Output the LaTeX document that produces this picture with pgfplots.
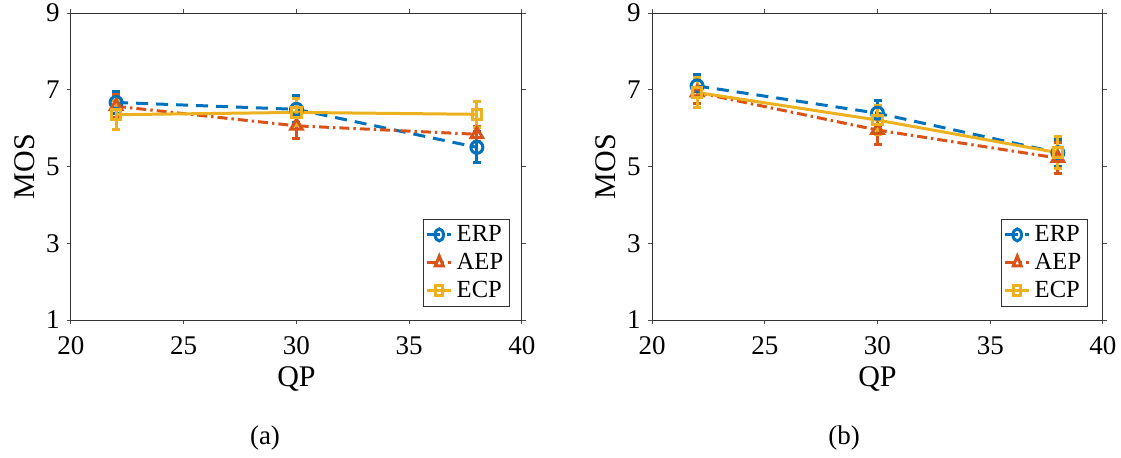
\documentclass[border=0pt]{standalone}
\usepackage{fontspec}
\setmainfont{Liberation Serif}
\usepackage{pgfplots}
\pgfplotsset{compat=1.18}
\usepackage{pgfplotstable}

% MATLAB default colours
\definecolor{mblue}{rgb}{0,0.447,0.741}
\definecolor{mred}{rgb}{0.850,0.325,0.098}
\definecolor{myellow}{rgb}{0.929,0.694,0.125}

% qp, mean and half-width of the error bar per scheme
\pgfplotstableread{
qp  erp  erpe  aep  aepe  ecp  ecpe
22  6.67 0.28  6.57 0.30  6.35 0.38
30  6.49 0.35  6.06 0.34  6.41 0.35
38  5.50 0.40  5.84 0.20  6.36 0.34
}\dataA
\pgfplotstableread{
qp  erp  erpe  aep  aepe  ecp  ecpe
22  7.10 0.30  6.93 0.30  6.93 0.39
30  6.39 0.33  5.95 0.38  6.21 0.37
38  5.36 0.35  5.22 0.40  5.36 0.41
}\dataB

\pgfplotsset{
  mos/.style={
    scale only axis, width=225.5pt, height=153.5pt,
    xmin=20, xmax=40, ymin=1, ymax=9,
    xtick={20,25,...,40}, ytick={1,3,...,9},
    tick align=outside, major tick length=2.2pt,
    axis line style={black!80, line width=0.5pt},
    every tick/.style={black!70, line width=0.5pt},
    /pgf/number format/assume math mode=true,
    ticklabel style={font=\fontsize{13.5}{14}\selectfont},
    xticklabel style={yshift=-2.5pt},
    xlabel={QP}, ylabel={MOS},
    label style={font=\fontsize{15}{16}\selectfont},
    xlabel style={yshift=1pt},
    ylabel style={yshift=-1pt},
    legend cell align=left,
    legend style={font=\fontsize{12.3}{13}\selectfont, draw=black!80,
      anchor=south east, inner sep=1.2pt, row sep=0.3pt},
    legend image post style={xscale=0.7},
    error bars/y dir=both, error bars/y explicit,
  },
  erp/.style={mblue, line width=1.5pt, dash pattern=on 6pt off 4pt,
    mark=o, mark size=3pt, mark options={solid},
    error bars/error bar style={solid, line width=1.5pt},
    error bars/error mark options={rotate=90, mark size=2pt, line width=1.5pt}},
  aep/.style={mred, line width=1.5pt, dash pattern=on 5pt off 2pt on 1.2pt off 2pt,
    mark=triangle, mark size=3.3pt, mark options={solid},
    error bars/error bar style={solid, line width=1.5pt},
    error bars/error mark options={rotate=90, mark size=2pt, line width=1.5pt}},
  ecp/.style={myellow, line width=1.5pt, solid,
    mark=square, mark size=2.4pt,
    error bars/error bar style={solid, line width=1.5pt},
    error bars/error mark options={rotate=90, mark size=2pt, line width=1.5pt}},
}

\begin{document}
\begin{tikzpicture}
\path[use as bounding box] (0,0) rectangle (560.5pt,228.5pt);

\begin{axis}[mos, at={(35.5pt,68.5pt)}, anchor=south west,
  legend style={at={(1,0)}, xshift=-6pt, yshift=6.5pt}]
  \addplot[erp] table[x=qp, y=erp, y error=erpe] {\dataA};
  \addlegendentry{ERP}
  \addplot[aep] table[x=qp, y=aep, y error=aepe] {\dataA};
  \addlegendentry{AEP}
  \addplot[ecp] table[x=qp, y=ecp, y error=ecpe] {\dataA};
  \addlegendentry{ECP}
\end{axis}

\begin{axis}[mos, at={(326pt,68.5pt)}, anchor=south west,
  legend style={at={(1,0)}, xshift=-7.5pt, yshift=6.5pt}]
  \addplot[erp] table[x=qp, y=erp, y error=erpe] {\dataB};
  \addlegendentry{ERP}
  \addplot[aep] table[x=qp, y=aep, y error=aepe] {\dataB};
  \addlegendentry{AEP}
  \addplot[ecp] table[x=qp, y=ecp, y error=ecpe] {\dataB};
  \addlegendentry{ECP}
\end{axis}

\node[font=\fontsize{13.5}{15}\selectfont] at (132.5pt,9.5pt) {(a)};
\node[font=\fontsize{13.5}{15}\selectfont] at (422pt,9.5pt) {(b)};
\end{tikzpicture}
\end{document}
